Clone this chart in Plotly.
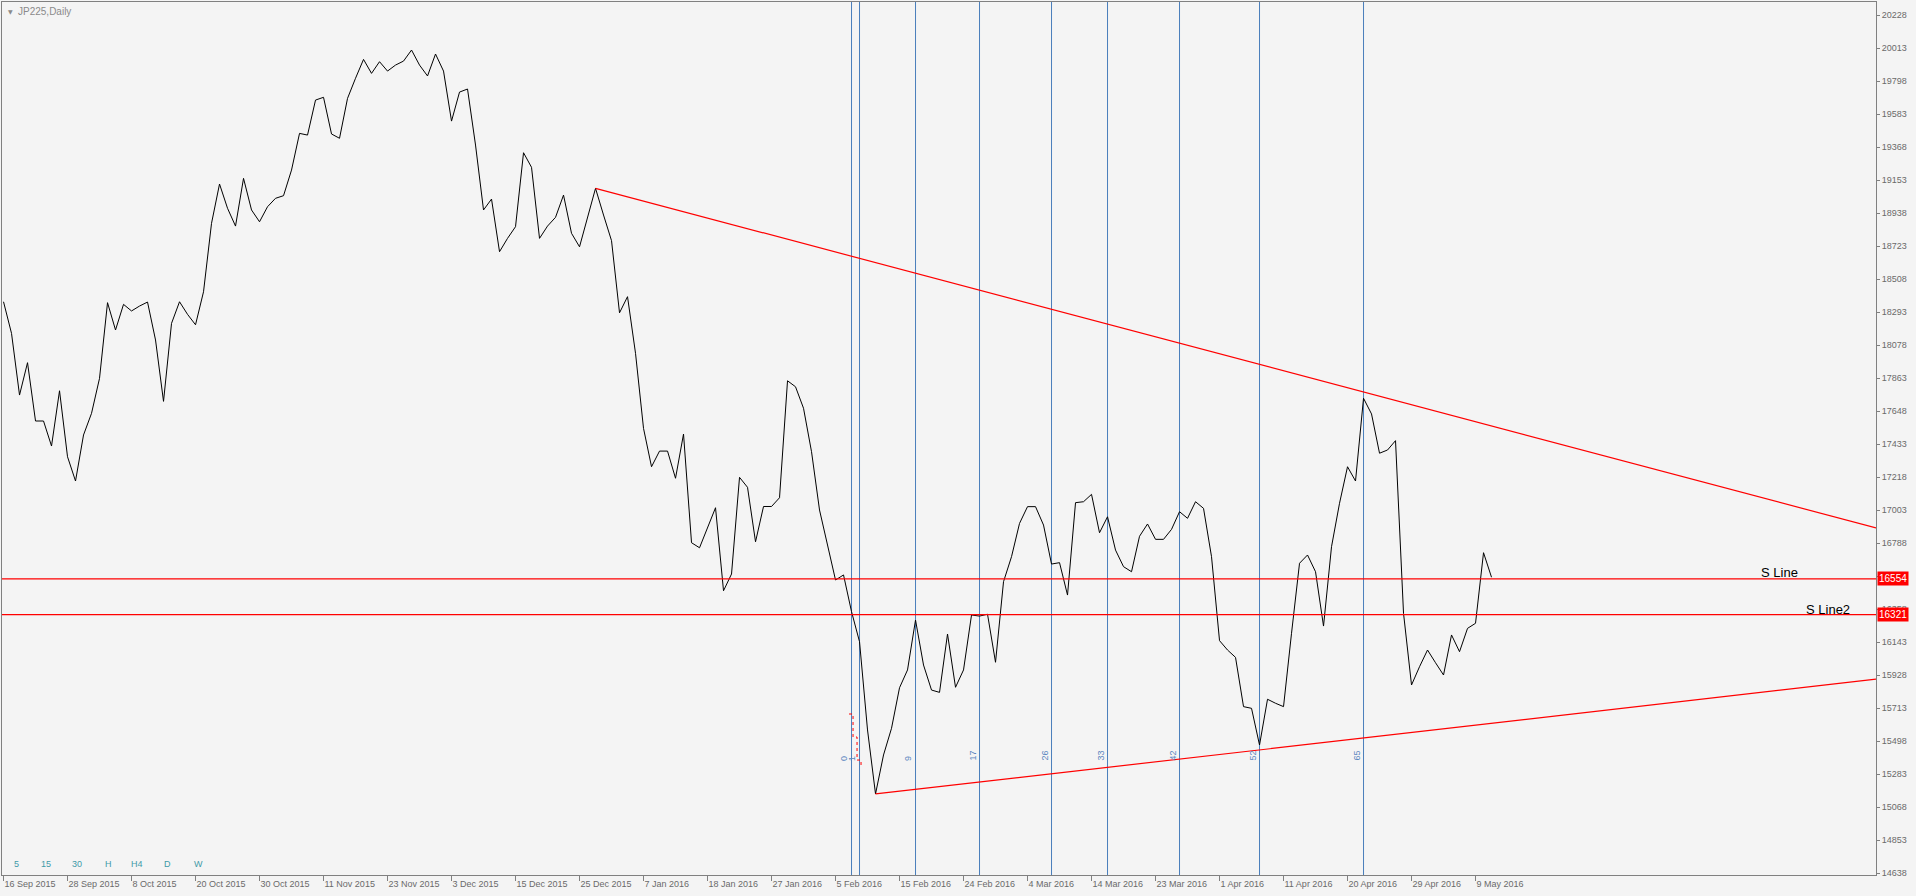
import plotly.graph_objects as go

# ---------------- data ----------------
close = [
    18360, 18154, 17752, 17963, 17583, 17583, 17420, 17780, 17350, 17192,
    17492, 17633, 17861, 18354, 18176, 18343, 18300, 18332, 18358, 18111,
    17711, 18219, 18360, 18278, 18210, 18425, 18871, 19127, 18969, 18853,
    19164, 18958, 18881, 18979, 19034, 19051, 19218, 19457, 19446, 19674,
    19692, 19453, 19425, 19685, 19816, 19939, 19848, 19924, 19863, 19902,
    19928, 20000, 19902, 19831, 19974, 19863, 19537, 19726, 19746, 19381,
    18958, 19029, 18686, 18773, 18849, 19331, 19236, 18773, 18853, 18910,
    19055, 18806, 18718, 18903, 19099, 18925, 18758, 18288, 18393, 18024,
    17535, 17285, 17387, 17387, 17210, 17498, 16790, 16757, 16890, 17018,
    16477, 16586, 17216, 17151, 16796, 17026, 17026, 17083, 17845, 17806,
    17666, 17383, 17003, 16764, 16547, 16580, 16341, 16145, 15570, 15153,
    15407, 15581, 15845, 15961, 16286, 15993, 15830, 15815, 16195, 15848,
    15961, 16319, 16312, 16324, 16011, 16536, 16699, 16916, 17025, 17025,
    16905, 16651, 16660, 16449, 17051, 17057, 17105, 16855, 16959, 16742,
    16634, 16601, 16832, 16912, 16812, 16812, 16877, 16992, 16949, 17057,
    17014, 16699, 16152, 16091, 16043, 15722, 15711, 15472, 15770, 15744,
    15722, 16200, 16656, 16710, 16601, 16247, 16764, 17047, 17285, 17192,
    17731, 17629, 17373, 17394, 17455, 16330, 15863, 15982, 16091, 16008,
    15928, 16189, 16080, 16232, 16265, 16725, 16565,
]
bars = list(range(len(close)))

date_labels = [
    "16 Sep 2015", "28 Sep 2015", "8 Oct 2015", "20 Oct 2015", "30 Oct 2015",
    "11 Nov 2015", "23 Nov 2015", "3 Dec 2015", "15 Dec 2015", "25 Dec 2015",
    "7 Jan 2016", "18 Jan 2016", "27 Jan 2016", "5 Feb 2016", "15 Feb 2016",
    "24 Feb 2016", "4 Mar 2016", "14 Mar 2016", "23 Mar 2016", "1 Apr 2016",
    "11 Apr 2016", "20 Apr 2016", "29 Apr 2016", "9 May 2016",
]
date_ticks = [0, 8, 16, 24, 32, 40, 48, 56, 64, 72, 80, 88, 96, 104, 112,
              120, 128, 136, 144, 152, 160, 168, 176, 184]

price_ticks = [14638, 14853, 15068, 15283, 15498, 15713, 15928, 16143, 16358,
               16573, 16788, 17003, 17218, 17433, 17648, 17863, 18078, 18293,
               18508, 18723, 18938, 19153, 19368, 19583, 19798, 20013, 20228]

# vertical time lines (bar index) and their labels
vline_bars = [106, 107, 114, 122, 131, 138, 147, 157, 170]
vline_labels = ["0", "1", "9", "17", "26", "33", "42", "52", "65"]

# trend lines: two anchor points (bar, price)
upper_trend = [(74, 19099), (170, 17772)]
lower_trend = [(109, 15153), (157, 15440)]

# horizontal levels
s_line = 16554
s_line2 = 16321

# small dotted marker near 5 Feb
dot_x = [105.69, 106.19, 106.19, 106.69, 106.69, 107.19, 107.19]
dot_y = [15674, 15674, 15524, 15524, 15374, 15374, 15335]

x_range = [-0.19, 234.06]
y_range = [14625, 20313]

# ---------------- figure ----------------
fig = go.Figure()

fig.add_trace(go.Scatter(x=bars, y=close, mode="lines",
                         line=dict(color="black", width=1), hoverinfo="skip"))

def extend(anchor, x_end):
    (x0, y0), (x1, y1) = anchor
    slope = (y1 - y0) / (x1 - x0)
    return [x0, x_end], [y0, y0 + slope * (x_end - x0)]

for anc in (upper_trend, lower_trend):
    tx, ty = extend(anc, x_range[1])
    fig.add_trace(go.Scatter(x=tx, y=ty, mode="lines",
                             line=dict(color="#ff0000", width=1.2), hoverinfo="skip"))

fig.add_trace(go.Scatter(x=dot_x, y=dot_y, mode="lines",
                         line=dict(color="#ff0000", width=1, dash="dot"), hoverinfo="skip"))

shapes = []
for b in vline_bars:
    shapes.append(dict(type="line", xref="x", yref="paper", x0=b, x1=b, y0=0, y1=1,
                       line=dict(color="#4a7ebb", width=1), layer="below"))
for lvl in (s_line, s_line2):
    shapes.append(dict(type="line", xref="paper", yref="y", x0=0, x1=1, y0=lvl, y1=lvl,
                       line=dict(color="#ff0000", width=1.2)))

annotations = []
for b, lab in zip(vline_bars, vline_labels):
    annotations.append(dict(x=b, y=15355, xref="x", yref="y", text=lab, showarrow=False,
                            textangle=-90, xanchor="center", yanchor="bottom", xshift=-7,
                            font=dict(family="Liberation Sans, Arial", size=9, color="#5b86c0")))

annotations += [
    dict(x=222.0, y=s_line, xref="x", yref="y", text="S Line", showarrow=False,
         xanchor="center", yanchor="bottom", yshift=-3,
         font=dict(family="Liberation Sans, Arial", size=13, color="black")),
    dict(x=228.0, y=s_line2, xref="x", yref="y", text="S Line2", showarrow=False,
         xanchor="center", yanchor="bottom", yshift=-4,
         font=dict(family="Liberation Sans, Arial", size=13, color="black")),
    dict(x=1, y=s_line, xref="paper", yref="y", text="16554", showarrow=False,
         xanchor="left", yanchor="middle", xshift=1, bgcolor="#ff0000", borderpad=1,
         font=dict(family="Liberation Sans, Arial", size=10, color="white")),
    dict(x=1, y=s_line2, xref="paper", yref="y", text="16321", showarrow=False,
         xanchor="left", yanchor="middle", xshift=1, bgcolor="#ff0000", borderpad=1,
         font=dict(family="Liberation Sans, Arial", size=10, color="white")),
    dict(x=0, y=1, xref="paper", yref="paper", text="▼", showarrow=False,
         xanchor="left", yanchor="top", xshift=4, yshift=-4,
         font=dict(family="DejaVu Sans", size=6, color="#8a8a8a")),
    dict(x=0, y=1, xref="paper", yref="paper", text="JP225,Daily", showarrow=False,
         xanchor="left", yanchor="top", xshift=14, yshift=-2,
         font=dict(family="Liberation Sans, Arial", size=10, color="#8a8a8a")),
]

tf_buttons = ["5", "15", "30", "H", "H4", "D", "W"]
tf_px = [14, 44, 75, 106, 135, 165, 196]
for t, px in zip(tf_buttons, tf_px):
    annotations.append(dict(x=0, y=0, xref="paper", yref="paper", text=t, showarrow=False,
                            xanchor="center", yanchor="bottom", xshift=px, yshift=4,
                            font=dict(family="Liberation Sans, Arial", size=9, color="#3f9aa8")))

fig.update_layout(
    width=1916, height=896,
    margin=dict(l=2, r=40, t=2, b=21),
    paper_bgcolor="#f4f4f4", plot_bgcolor="#f4f4f4",
    showlegend=False,
    shapes=shapes, annotations=annotations,
    xaxis=dict(range=x_range, showgrid=False, zeroline=False,
               tickmode="array", tickvals=date_ticks, ticktext=date_labels,
               ticks="outside", ticklen=5, tickcolor="#808080",
               ticklabelposition="outside right",
               tickfont=dict(family="Liberation Sans, Arial", size=9, color="#6a6a6a"),
               showline=True, linecolor="#808080", linewidth=1, mirror=True),
    yaxis=dict(range=y_range, side="right", showgrid=False, zeroline=False,
               tickmode="array", tickvals=price_ticks,
               ticktext=[str(v) for v in price_ticks],
               ticks="outside", ticklen=3, tickcolor="#808080",
               tickfont=dict(family="Liberation Sans, Arial", size=9, color="#6a6a6a"),
               showline=True, linecolor="#808080", linewidth=1, mirror=True),
)

fig.write_html("out.html",
               config={"displayModeBar": False},
               post_script="document.body.style.margin='0';document.body.style.overflow='hidden';document.body.style.background='#f4f4f4';")
